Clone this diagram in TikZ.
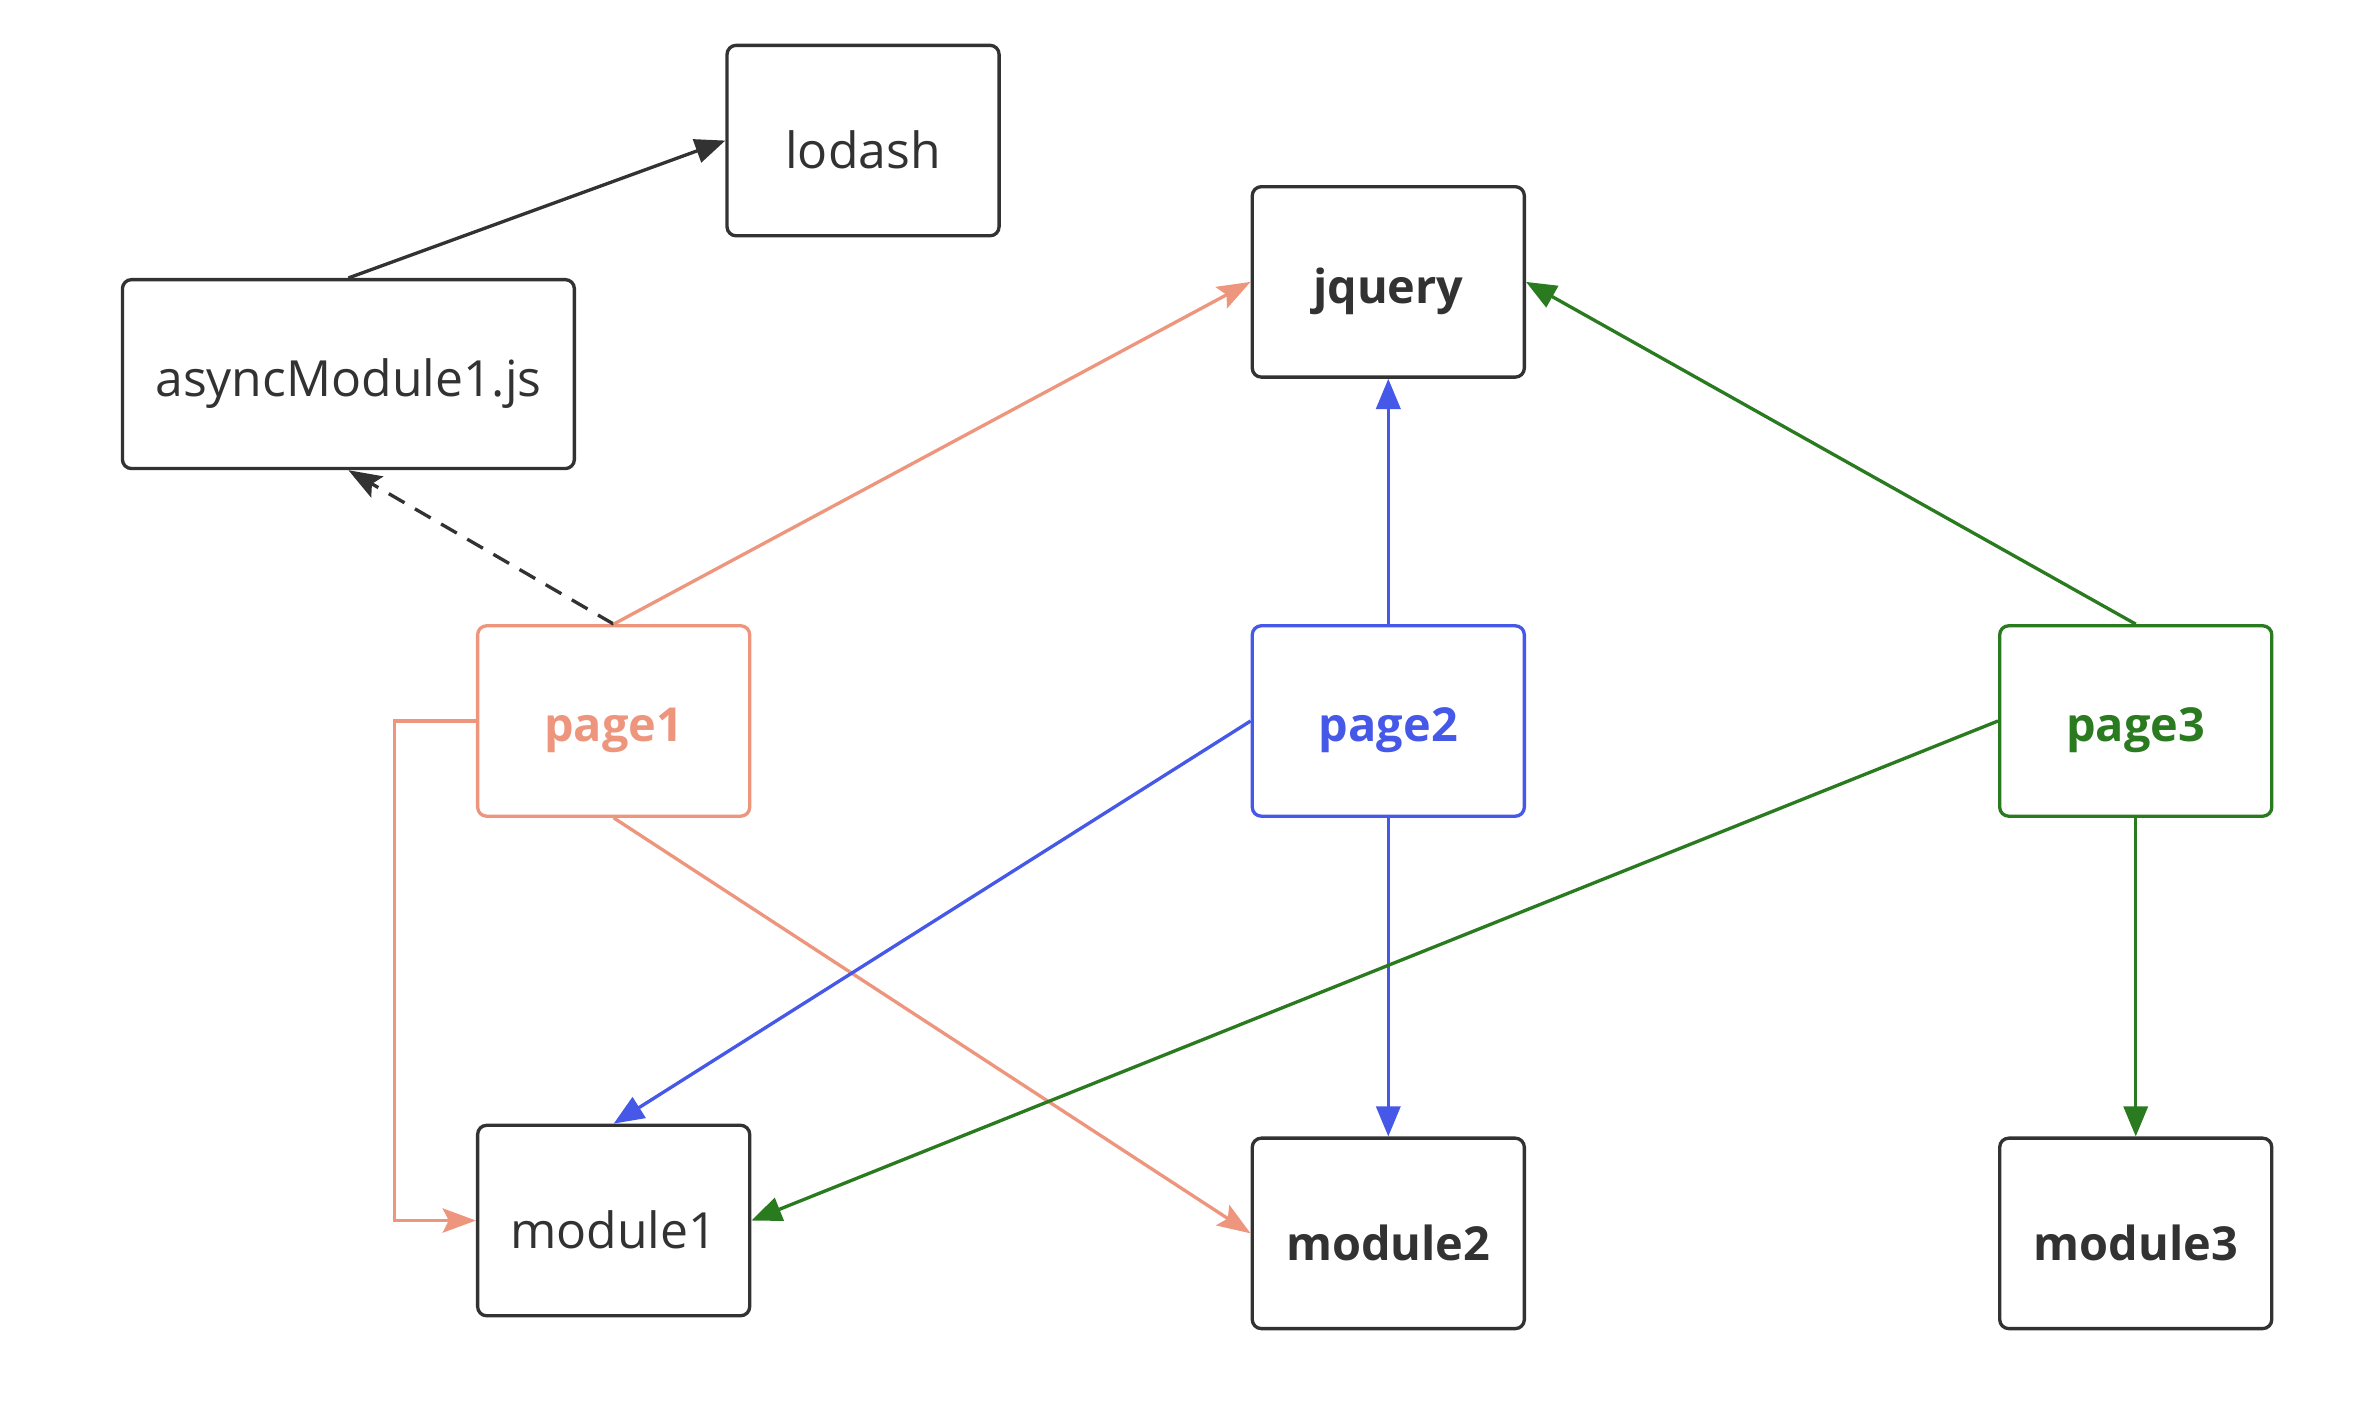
\documentclass[tikz,border=0pt]{standalone}
\usepackage{fontspec}
\setmainfont{Open Sans}
\usetikzlibrary{arrows.meta}

\definecolor{pageOneC}{RGB}{238,150,125}
\definecolor{pageTwoC}{RGB}{70,88,232}
\definecolor{pageThreeC}{RGB}{42,122,32}
\definecolor{boxC}{RGB}{50,50,50}

\newcommand{\boxlabel}[1]{\raisebox{-3pt}[\height][\depth]{#1}}

\begin{document}
\begin{tikzpicture}[x=0.5pt,y=-0.5pt,
  box/.style={draw=boxC,line width=1.1pt,rounded corners=3pt,inner sep=0pt,
    minimum width=90pt,minimum height=63pt,text=boxC,
    font=\fontsize{16.5}{19}\selectfont},
  bbox/.style={box,font=\fontsize{15.5}{19}\selectfont\bfseries},
  link/.style={line width=1.1pt,-{Triangle[length=10pt,width=8pt]}},
  softlink/.style={line width=1.1pt,-{Stealth[length=11pt,width=8pt,inset=2pt]}}]
\useasboundingbox (0,0) rectangle (1568,942);

% Text Node
\node [box] (lodash) at (571,93) {\boxlabel{lodash}};
% Text Node
\node [box,minimum width=149.5pt,minimum height=62.5pt] (async) at (230.5,247.5) {\boxlabel{asyncModule1.js}};
% Text Node
\node [bbox] (jquery) at (918.5,186.5) {\boxlabel{jquery}};
% Text Node
\node [bbox,draw=pageOneC,text=pageOneC] (page1) at (406,477) {\boxlabel{page1}};
% Text Node
\node [bbox,draw=pageTwoC,text=pageTwoC] (page2) at (918.5,477) {\boxlabel{page2}};
% Text Node
\node [bbox,draw=pageThreeC,text=pageThreeC] (page3) at (1413,477) {\boxlabel{page3}};
% Text Node
\node [box] (module1) at (406,807.5) {\boxlabel{module1}};
% Text Node
\node [bbox] (module2) at (918.5,816) {\boxlabel{module2}};
% Text Node
\node [bbox] (module3) at (1413,816) {\boxlabel{module3}};

%Straight Lines
\draw [link,color=boxC] (async.north) -- (lodash.west);
\draw [softlink,color=boxC,dashed,dash pattern=on 6pt off 4pt] (page1.north) -- (async.south);

%page1
\draw [softlink,color=pageOneC] (page1.north) -- (jquery.west);
\draw [softlink,color=pageOneC] (page1.west) -- ++(-54,0) |- (module1.west);
\draw [softlink,color=pageOneC] (page1.south) -- (module2.west);

%page2
\draw [link,color=pageTwoC] (page2.north) -- (jquery.south);
\draw [link,color=pageTwoC] (page2.west) -- (module1.north);
\draw [link,color=pageTwoC] (page2.south) -- (module2.north);

%page3
\draw [link,color=pageThreeC] (page3.north) -- (jquery.east);
\draw [link,color=pageThreeC] (page3.west) -- (module1.east);
\draw [link,color=pageThreeC] (page3.south) -- (module3.north);

\end{tikzpicture}
\end{document}
